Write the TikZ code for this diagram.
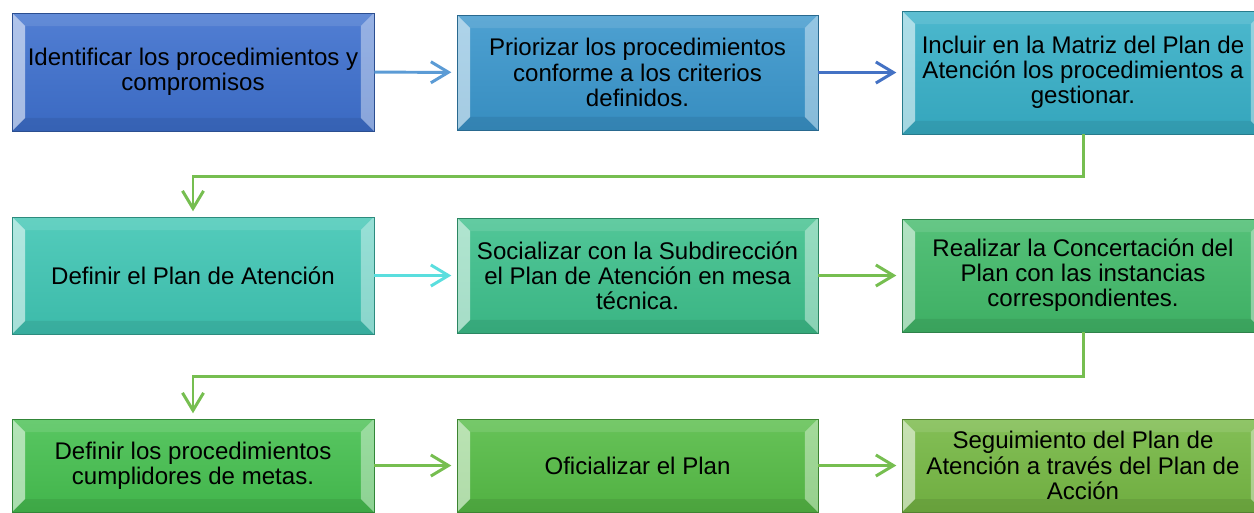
\documentclass[tikz,border=0pt]{standalone}
\usepackage{fontspec}
\setmainfont{Liberation Sans}
\usetikzlibrary{arrows.meta}

% colores de las cajas
\definecolor{cPaso1}{RGB}{62,112,206}
\definecolor{cPaso2}{RGB}{58,150,204}
\definecolor{cPaso3}{RGB}{56,176,200}
\definecolor{cPaso4}{RGB}{64,198,180}
\definecolor{cPaso5}{RGB}{62,192,140}
\definecolor{cPaso6}{RGB}{66,186,106}
\definecolor{cPaso7}{RGB}{70,192,80}
\definecolor{cPaso8}{RGB}{86,188,70}
\definecolor{cPaso9}{RGB}{118,184,68}
% colores de las flechas
\definecolor{cFlechaA}{RGB}{91,155,213}
\definecolor{cFlechaB}{RGB}{68,114,196}
\definecolor{cFlechaC}{RGB}{90,222,222}
\definecolor{cFlechaV}{RGB}{118,190,80}

\tikzset{
  bisel/.style={path picture={
    \def\pb{path picture bounding box}
    % izquierda
    \fill[white,opacity=.55] (\pb.north west) -- ([shift={(0.26cm,-0.26cm)}]\pb.north west)
      -- ([shift={(0.26cm,0.26cm)}]\pb.south west) -- (\pb.south west) -- cycle;
    % derecha
    \fill[white,opacity=.4] (\pb.north east) -- ([shift={(-0.26cm,-0.26cm)}]\pb.north east)
      -- ([shift={(-0.26cm,0.26cm)}]\pb.south east) -- (\pb.south east) -- cycle;
    % arriba
    \fill[white,opacity=.1] (\pb.north west) -- ([shift={(0.26cm,-0.26cm)}]\pb.north west)
      -- ([shift={(-0.26cm,-0.26cm)}]\pb.north east) -- (\pb.north east) -- cycle;
    % abajo
    \fill[black,opacity=.07] (\pb.south west) -- ([shift={(0.26cm,0.26cm)}]\pb.south west)
      -- ([shift={(-0.26cm,0.26cm)}]\pb.south east) -- (\pb.south east) -- cycle;
  }},
  paso/.style={bisel, draw=#1!70!black, line width=0.5pt,
    top color=#1!90!white, bottom color=#1!94!black,
    align=center, inner sep=0pt,
    font=\fontsize{13.7}{14.3}\selectfont},
  flecha/.style={line width=1.7pt, line cap=butt,
    -{Straight Barb[length=10pt,width=12pt,line width=1.7pt]}, shorten >=3pt}
}

\begin{document}
\begin{tikzpicture}[x=0.02cm,y=0.02cm]
\useasboundingbox (0,0) rectangle (1254,512);

% Fila 1
\node[paso=cPaso1, minimum width=7.24cm, minimum height=2.36cm] (identificar) at (193,440)
  {Identificar los procedimientos y\\compromisos};
\node[paso=cPaso2, minimum width=7.22cm, minimum height=2.3cm] (priorizar) at (637.5,439.5)
  {Priorizar los procedimientos\\conforme a los criterios\\definidos.};
\node[paso=cPaso3, minimum width=7.24cm, minimum height=2.46cm] (incluir) at (1083,439.5)
  {Incluir en la Matriz del Plan de\\Atención los procedimientos a\\gestionar.};

% Fila 2
\node[paso=cPaso4, minimum width=7.24cm, minimum height=2.34cm] (definir) at (193,236.5)
  {Definir el Plan de Atención};
\node[paso=cPaso5, minimum width=7.22cm, minimum height=2.3cm] (socializar) at (637.5,236.5)
  {Socializar con la Subdirección\\el Plan de Atención en mesa\\técnica.};
\node[paso=cPaso6, minimum width=7.24cm, minimum height=2.26cm] (concertar) at (1083,236.5)
  {Realizar la Concertación del\\Plan con las instancias\\correspondientes.};

% Fila 3
\node[paso=cPaso7, minimum width=7.24cm, minimum height=1.86cm] (cumplidores) at (193,46.5)
  {Definir los procedimientos\\cumplidores de metas.};
\node[paso=cPaso8, minimum width=7.22cm, minimum height=1.86cm] (oficializar) at (637.5,46.5)
  {Oficializar el Plan};
\node[paso=cPaso9, minimum width=7.24cm, minimum height=1.86cm] (seguimiento) at (1083,46.5)
  {Seguimiento del Plan de\\Atención a través del Plan de\\Acción};

% Flechas
\draw[flecha, cFlechaA] (identificar) -- (priorizar);
\draw[flecha, cFlechaB] (priorizar) -- (incluir);
\draw[flecha, cFlechaV] (incluir.south) -- ++(0,-42) -| (definir.north);
\draw[flecha, cFlechaC] (definir) -- (socializar);
\draw[flecha, cFlechaV] (socializar) -- (concertar);
\draw[flecha, cFlechaV] (concertar.south) -- ++(0,-44) -| (cumplidores.north);
\draw[flecha, cFlechaV] (cumplidores) -- (oficializar);
\draw[flecha, cFlechaV] (oficializar) -- (seguimiento);

\end{tikzpicture}
\end{document}
